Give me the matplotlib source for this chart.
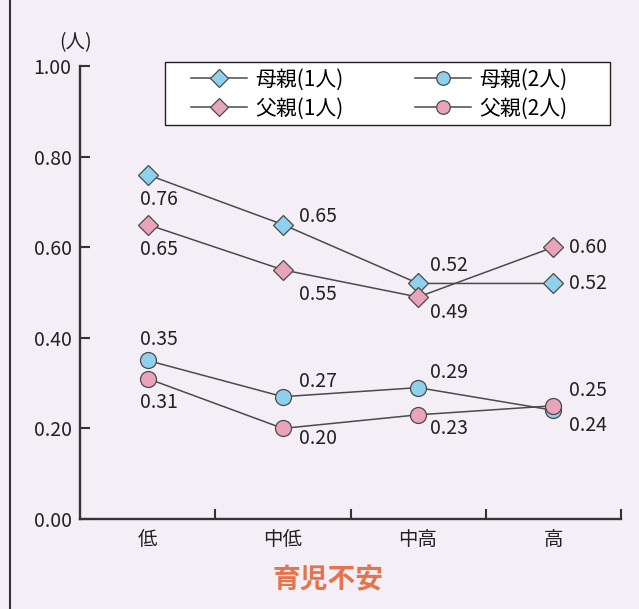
import matplotlib
matplotlib.use("Agg")
import matplotlib.pyplot as plt
from matplotlib.lines import Line2D
from matplotlib.patches import Rectangle

plt.rcParams['font.family'] = ['Noto Sans CJK JP', 'DejaVu Sans']

categories = ["低", "中低", "中高", "高"]
series_names = ["母親(1人)", "父親(1人)", "母親(2人)", "父親(2人)"]
mother_1 = [0.76, 0.65, 0.52, 0.52]
father_1 = [0.65, 0.55, 0.49, 0.60]
mother_2 = [0.35, 0.27, 0.29, 0.24]
father_2 = [0.31, 0.20, 0.23, 0.25]
y_ticks = [0.0, 0.2, 0.4, 0.6, 0.8, 1.0]

BLUE = "#8fd0ec"
PINK = "#e9a3bb"
LINE = "#4a4a4a"
TEXT = "#222222"
BG = "#f4eff6"

W, H = 639, 609
fig = plt.figure(figsize=(W / 100, H / 100), dpi=100, facecolor=BG)
ax = fig.add_axes([80/W, 1-519/H, 541/W, 453/H])
ax.set_facecolor(BG)

x = list(range(len(categories)))
styles = [
    (mother_1, "D", BLUE, 10.5),
    (father_1, "D", PINK, 10.5),
    (mother_2, "o", BLUE, 11.5),
    (father_2, "o", PINK, 11.5),
]
handles = []
for (vals, mk, col, ms), name in zip(styles, series_names):
    ax.plot(x, vals, color=LINE, lw=1.1, marker=mk, markersize=ms,
            markerfacecolor=col, markeredgecolor=LINE, markeredgewidth=0.9,
            zorder=3)
    handles.append(Line2D([], [], color=LINE, lw=1.1, marker=mk,
                          markersize=ms * 0.85, markerfacecolor=col,
                          markeredgecolor=LINE, markeredgewidth=0.9))

# value labels: (dx, dy) offsets in points relative to each marker
offsets = {
    0: [(8, -18), (25, 6), (22, 13), (25, 0)],
    1: [(8, -18), (25, -18), (22, -11), (25, 0)],
    2: [(8, 15), (25, 11), (22, 11), (25, -11)],
    3: [(8, -17), (25, -7), (22, -10), (25, 11)],
}
for si, (vals, _, _, _) in enumerate(styles):
    for i, v in enumerate(vals):
        dx, dy = offsets[si][i]
        ax.annotate(f"{v:.2f}", (i, v), xytext=(dx, dy),
                    textcoords="offset points", ha="center", va="center",
                    fontsize=14, color=TEXT, zorder=4)

ax.set_xlim(-0.5, 3.5)
ax.set_ylim(0, 1.0)
ax.set_yticks(y_ticks)
ax.set_yticklabels([f"{t:.2f}" for t in y_ticks], fontsize=14, color=TEXT)
ax.set_xticks(x)
ax.set_xticklabels(categories, fontsize=14, color=TEXT)
ax.tick_params(axis="x", length=0, pad=7)
ax.set_xticks([0.5, 1.5, 2.5, 3.5], minor=True)
ax.tick_params(axis="x", which="minor", direction="in", length=7, width=1.5,
               color="#333333")
ax.tick_params(axis="y", direction="in", length=7, width=1.5, color="#333333",
               pad=6)
for s in ("top", "right"):
    ax.spines[s].set_visible(False)
for s in ("left", "bottom"):
    ax.spines[s].set_linewidth(1.7)
    ax.spines[s].set_color("#333333")

fig.text(76/W, 1-43/H, "(人)", fontsize=14, ha="center", va="center",
         color=TEXT)
fig.text(328/W, 1-580/H, "育児不安", fontsize=20, fontweight="bold",
         ha="center", va="center", color="#e5734c")

# legend: white box with a frameless two-column legend inside
fig.add_artist(Rectangle((165/W, 1-125/H), 445/W, 63/H,
                         transform=fig.transFigure, facecolor="white",
                         edgecolor="#222222", lw=1.0, zorder=5))
leg = fig.legend(handles, series_names, ncol=2, loc="center left",
                 bbox_to_anchor=(191/W, 1-94/H),
                 fontsize=15, handlelength=2.7, handletextpad=0.4,
                 borderpad=0, borderaxespad=0, labelspacing=0.35,
                 columnspacing=3.4, frameon=False)
leg.set_zorder(6)

# page border on the left
fig.add_artist(Line2D([10/W, 10/W], [0, 1], transform=fig.transFigure,
                      color="#333333", lw=1.5))

fig.savefig("out.png", dpi=100, facecolor=BG)
